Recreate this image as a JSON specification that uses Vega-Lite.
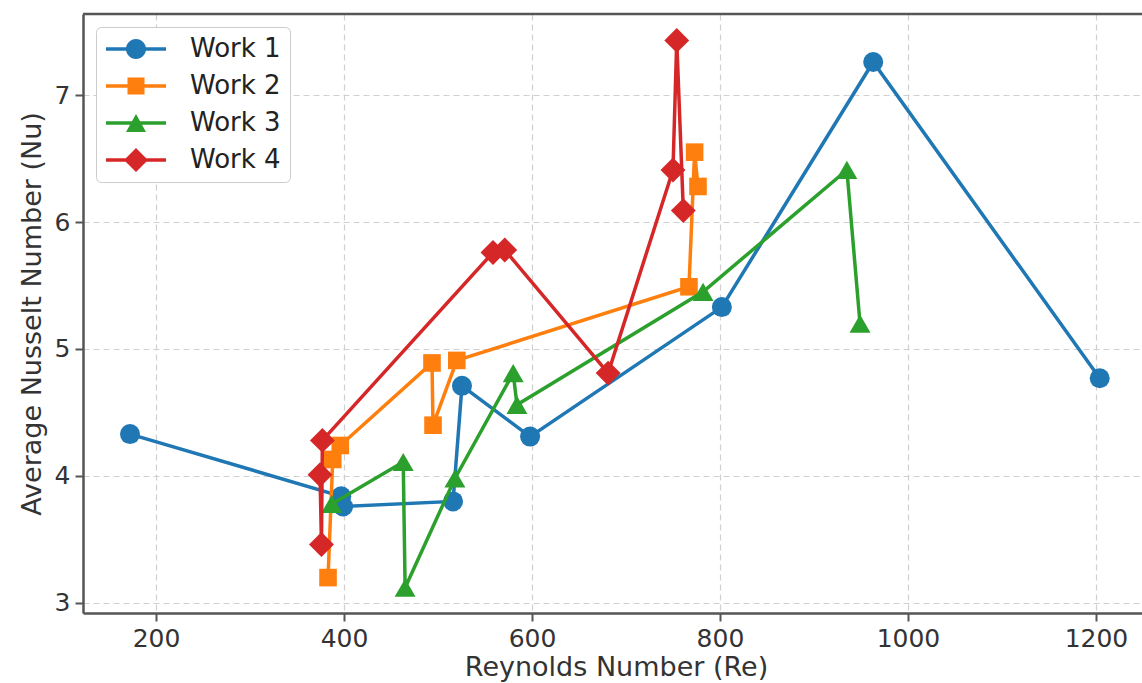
{
  "$schema": "https://vega.github.io/schema/vega-lite/v6.json",
  "width": 1059,
  "height": 599,
  "autosize": {"type": "none"},
  "padding": {"left": 83, "top": 14, "right": 0, "bottom": 70},
  "background": "white",
  "config": {
    "font": "DejaVu Sans",
    "view": {"stroke": null},
    "axis": {
      "domainColor": "#555555",
      "domainWidth": 2.5,
      "tickColor": "#555555",
      "tickWidth": 2,
      "tickSize": 8,
      "labelFont": "DejaVu Sans",
      "labelFontSize": 25,
      "labelColor": "#333333",
      "labelPadding": 5,
      "titleFont": "DejaVu Sans",
      "titleFontSize": 27,
      "titleFontWeight": "normal",
      "titleColor": "#333333",
      "gridColor": "#d0d0d0",
      "gridDash": [6, 4],
      "gridWidth": 1.2
    }
  },
  "datasets": {
    "nu": [
      {"work": "Work 1", "Re": 172.3, "Nu": 4.33},
      {"work": "Work 1", "Re": 397, "Nu": 3.84},
      {"work": "Work 1", "Re": 399, "Nu": 3.76},
      {"work": "Work 1", "Re": 516, "Nu": 3.8},
      {"work": "Work 1", "Re": 525.5, "Nu": 4.71},
      {"work": "Work 1", "Re": 598, "Nu": 4.31},
      {"work": "Work 1", "Re": 802, "Nu": 5.33},
      {"work": "Work 1", "Re": 963, "Nu": 7.26},
      {"work": "Work 1", "Re": 1204, "Nu": 4.77},
      {"work": "Work 2", "Re": 383, "Nu": 3.2},
      {"work": "Work 2", "Re": 388, "Nu": 4.13},
      {"work": "Work 2", "Re": 396, "Nu": 4.24},
      {"work": "Work 2", "Re": 493.6, "Nu": 4.89},
      {"work": "Work 2", "Re": 494.7, "Nu": 4.4},
      {"work": "Work 2", "Re": 520, "Nu": 4.91},
      {"work": "Work 2", "Re": 767, "Nu": 5.49},
      {"work": "Work 2", "Re": 773, "Nu": 6.55},
      {"work": "Work 2", "Re": 776.6, "Nu": 6.28},
      {"work": "Work 3", "Re": 387, "Nu": 3.78},
      {"work": "Work 3", "Re": 463, "Nu": 4.11},
      {"work": "Work 3", "Re": 465, "Nu": 3.12},
      {"work": "Work 3", "Re": 518, "Nu": 3.98},
      {"work": "Work 3", "Re": 580, "Nu": 4.81},
      {"work": "Work 3", "Re": 584, "Nu": 4.56},
      {"work": "Work 3", "Re": 782, "Nu": 5.45},
      {"work": "Work 3", "Re": 935, "Nu": 6.41},
      {"work": "Work 3", "Re": 949, "Nu": 5.2},
      {"work": "Work 4", "Re": 374.5, "Nu": 4.01},
      {"work": "Work 4", "Re": 376, "Nu": 3.46},
      {"work": "Work 4", "Re": 377, "Nu": 4.28},
      {"work": "Work 4", "Re": 558.5, "Nu": 5.76},
      {"work": "Work 4", "Re": 571, "Nu": 5.78},
      {"work": "Work 4", "Re": 681, "Nu": 4.81},
      {"work": "Work 4", "Re": 750, "Nu": 6.41},
      {"work": "Work 4", "Re": 754, "Nu": 7.43},
      {"work": "Work 4", "Re": 761, "Nu": 6.09}
    ],
    "frame": [{"edge": "top"}]
  },
  "layer": [
    {
      "data": {"name": "nu"},
      "transform": [{"filter": "datum.work == 'Work 1'"}],
      "mark": {"type": "line", "color": "#1f77b4", "strokeWidth": 3.5,
               "point": {"shape": "circle", "size": 400, "filled": true, "color": "#1f77b4", "opacity": 1}},
      "encoding": {
        "x": {"field": "Re", "type": "quantitative",
              "scale": {"domain": [122.3, 1249], "nice": false, "zero": false},
              "axis": {"title": "Reynolds Number (Re)", "values": [200, 400, 600, 800, 1000, 1200], "format": "d", "titleX": 533, "titlePadding": 3}},
        "y": {"field": "Nu", "type": "quantitative",
              "scale": {"domain": [2.921, 7.638], "nice": false, "zero": false},
              "axis": {"title": "Average Nusselt Number (Nu)", "values": [3, 4, 5, 6, 7], "format": "d", "titlePadding": 8}}
      }
    },
    {
      "data": {"name": "nu"},
      "transform": [{"filter": "datum.work == 'Work 2'"}],
      "mark": {"type": "line", "color": "#ff7f0e", "strokeWidth": 3.5,
               "point": {"shape": "square", "size": 310, "filled": true, "color": "#ff7f0e", "opacity": 1}},
      "encoding": {
        "x": {"field": "Re", "type": "quantitative",
              "scale": {"domain": [122.3, 1249], "nice": false, "zero": false},
              "axis": {"title": "Reynolds Number (Re)", "values": [200, 400, 600, 800, 1000, 1200], "format": "d", "titleX": 533, "titlePadding": 3}},
        "y": {"field": "Nu", "type": "quantitative",
              "scale": {"domain": [2.921, 7.638], "nice": false, "zero": false},
              "axis": {"title": "Average Nusselt Number (Nu)", "values": [3, 4, 5, 6, 7], "format": "d", "titlePadding": 8}}
      }
    },
    {
      "data": {"name": "nu"},
      "transform": [{"filter": "datum.work == 'Work 3'"}],
      "mark": {"type": "line", "color": "#2ca02c", "strokeWidth": 3.5,
               "point": {"shape": "triangle-up", "size": 440, "filled": true, "color": "#2ca02c", "opacity": 1}},
      "encoding": {
        "x": {"field": "Re", "type": "quantitative",
              "scale": {"domain": [122.3, 1249], "nice": false, "zero": false},
              "axis": {"title": "Reynolds Number (Re)", "values": [200, 400, 600, 800, 1000, 1200], "format": "d", "titleX": 533, "titlePadding": 3}},
        "y": {"field": "Nu", "type": "quantitative",
              "scale": {"domain": [2.921, 7.638], "nice": false, "zero": false},
              "axis": {"title": "Average Nusselt Number (Nu)", "values": [3, 4, 5, 6, 7], "format": "d", "titlePadding": 8}}
      }
    },
    {
      "data": {"name": "nu"},
      "transform": [{"filter": "datum.work == 'Work 4'"}],
      "mark": {"type": "line", "color": "#d62728", "strokeWidth": 3.5,
               "point": {"shape": "diamond", "size": 620, "filled": true, "color": "#d62728", "opacity": 1}},
      "encoding": {
        "x": {"field": "Re", "type": "quantitative",
              "scale": {"domain": [122.3, 1249], "nice": false, "zero": false},
              "axis": {"title": "Reynolds Number (Re)", "values": [200, 400, 600, 800, 1000, 1200], "format": "d", "titleX": 533, "titlePadding": 3}},
        "y": {"field": "Nu", "type": "quantitative",
              "scale": {"domain": [2.921, 7.638], "nice": false, "zero": false},
              "axis": {"title": "Average Nusselt Number (Nu)", "values": [3, 4, 5, 6, 7], "format": "d", "titlePadding": 8}}
      }
    },
    {
      "data": {"name": "frame"},
      "mark": {"type": "rule", "color": "#555555", "strokeWidth": 2.5},
      "encoding": {
        "y": {"datum": 7.638, "type": "quantitative",
              "scale": {"domain": [2.921, 7.638], "nice": false, "zero": false},
              "axis": {"title": "Average Nusselt Number (Nu)", "values": [3, 4, 5, 6, 7], "format": "d", "titlePadding": 8}}
      }
    },
    {
      "data": {"name": "nu"},
      "transform": [{"filter": "datum.Re < 0"}],
      "mark": {"type": "point", "filled": true, "opacity": 1},
      "encoding": {
        "x": {"field": "Re", "type": "quantitative",
              "scale": {"domain": [122.3, 1249], "nice": false, "zero": false},
              "axis": {"title": "Reynolds Number (Re)", "values": [200, 400, 600, 800, 1000, 1200], "format": "d", "titleX": 533, "titlePadding": 3}},
        "y": {"field": "Nu", "type": "quantitative",
              "scale": {"domain": [2.921, 7.638], "nice": false, "zero": false},
              "axis": {"title": "Average Nusselt Number (Nu)", "values": [3, 4, 5, 6, 7], "format": "d", "titlePadding": 8}},
        "color": {"field": "work", "type": "nominal",
                  "scale": {"domain": ["Work 1", "Work 2", "Work 3", "Work 4"], "range": ["#1f77b4", "#ff7f0e", "#2ca02c", "#d62728"]},
                  "legend": {"title": null, "orient": "top-left", "offset": 13, "padding": 9, "rowPadding": 11,
                             "labelFont": "DejaVu Sans", "labelFontSize": 26, "labelColor": "#222222",
                             "symbolSize": 400, "symbolStrokeWidth": 0, "symbolOffset": 18, "labelOffset": 41, "symbolOpacity": 1,
                             "strokeColor": "#cccccc", "fillColor": "white", "cornerRadius": 5}},
        "shape": {"field": "work", "type": "nominal",
                  "scale": {"domain": ["Work 1", "Work 2", "Work 3", "Work 4"],
                            "range": [
                              "M-3,-0.17H3V0.17H-3Z M1,0A1,1 0 1,1 -1,0A1,1 0 1,1 1,0Z",
                              "M-3,-0.17H3V0.17H-3Z M-0.85,-0.85H0.85V0.85H-0.85Z",
                              "M-3,-0.17H3V0.17H-3Z M0,-0.9L1,0.9L-1,0.9Z",
                              "M-3,-0.17H3V0.17H-3Z M0,-1.2L1.2,0L0,1.2L-1.2,0Z"
                            ]},
                  "legend": {"title": null, "orient": "top-left", "offset": 13, "padding": 9, "rowPadding": 11,
                             "labelFont": "DejaVu Sans", "labelFontSize": 26, "labelColor": "#222222",
                             "symbolSize": 400, "symbolStrokeWidth": 0, "symbolOffset": 18, "labelOffset": 41, "symbolOpacity": 1,
                             "strokeColor": "#cccccc", "fillColor": "white", "cornerRadius": 5}}
      }
    }
  ]
}
